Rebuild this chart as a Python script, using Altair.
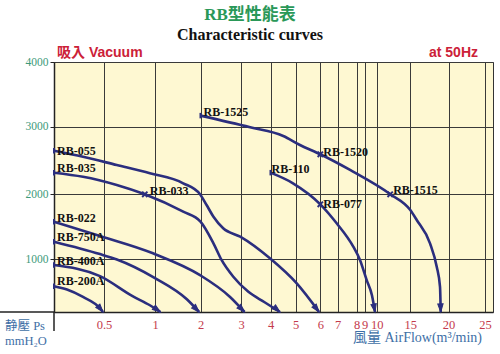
import altair as alt
import pandas as pd

# ---------------- data ----------------
RB200A_X = [0, 0.13, 0.29, 0.46, 0.49]
RB200A_Y = [490, 427, 286, 71, 0]
RB400A_X = [0, 0.46, 0.78, 0.95, 1.12]
RB400A_Y = [891, 680, 300, 128, 0]
RB750A_X = [0, 0.46, 0.62, 1.0, 1.7, 1.97]
RB750A_Y = [1271, 1080, 1000, 643, 242, 0]
RB022_X = [0, 0.46, 0.98, 1.99, 2.73, 3.12]
RB022_Y = [1578, 1358, 1092, 700, 286, 0]
RB035_X = [0, 0.29, 0.625, 0.9, 1.62, 2.0, 2.32, 2.52, 2.81, 3.25, 3.8, 4.38]
RB035_Y = [2320, 2260, 2138, 2000, 1732, 1580, 1246, 987, 668, 382, 185, 0]
RB055_X = [0, 0.29, 0.625, 0.95, 1.62, 1.99, 2.15, 2.32, 2.56, 2.98, 3.98, 5.05, 5.95]
RB055_Y = [2645, 2556, 2433, 2311, 2163, 2000, 1835, 1655, 1477, 1348, 1015, 542, 0]
RB110_X = [4, 4.9, 6, 6.94, 7.82, 8.42, 9.18, 9.61, 9.86]
RB110_Y = [2320, 2163, 1846, 1554, 1194, 987, 605, 319, 0]
RB1525_X = [2, 3.31, 4.51, 5.18, 6, 7.65, 11.98, 15, 15.84, 17.58, 18.46, 18.89, 18.98]
RB1525_Y = [3171, 2991, 2862, 2729, 2592, 2360, 2004, 1758, 1605, 1246, 859, 477, 0]

CURVE_NAMES = ["RB-200A", "RB-400A", "RB-750A", "RB-022", "RB-035", "RB-055", "RB-110", "RB-1525"]
CURVE_X = [RB200A_X, RB400A_X, RB750A_X, RB022_X, RB035_X, RB055_X, RB110_X, RB1525_X]
CURVE_Y = [RB200A_Y, RB400A_Y, RB750A_Y, RB022_Y, RB035_Y, RB055_Y, RB110_Y, RB1525_Y]

MID_NAMES = ["RB-033", "RB-077", "RB-1520", "RB-1515"]
MID_X = [0.9, 6, 6, 12]
MID_Y = [2000, 1846, 2592, 2000]

LABELS = ["RB-055", "RB-035", "RB-022", "RB-750A", "RB-400A", "RB-200A",
          "RB-033", "RB-1525", "RB-1520", "RB-110", "RB-077", "RB-1515"]
LABEL_X = [0, 0, 0, 0, 0, 0, 0.9, 2, 6, 4, 6, 12]
LABEL_Y = [2645, 2320, 1578, 1271, 891, 490, 2000, 3171, 2592, 2320, 1846, 2000]

X_TICKS = [0.5, 1, 2, 3, 4, 5, 6, 7, 8, 9, 10, 15, 20, 25]
Y_TICKS = [1000, 2000, 3000, 4000]

# ---------------- styles ----------------
LABEL_DX = [3, 3, 3, 3, 3, 3, 5, 3, 3, 1, 3, 3]
LABEL_DY = [4, -1, 0, -1, 0, -1, 1, 0, 2, 0, 4, 0]
ARROW_ANGLE = [140, 125, 136, 135, 130, 142, 170, 178]

# irregular hand-drawn axis -> piecewise scales
X_DOMAIN = [0, 0.5, 1, 2, 3, 4, 5, 6, 7, 8, 9, 10, 15, 20, 25, 27]
X_RANGE = [0, 50, 101, 146.5, 187, 216.5, 241.5, 266.3, 283.7, 302.7, 310.5, 322.7, 356.3, 394.5, 431, 439]
Y_DOMAIN = [0, 1000, 2000, 3000, 4000]
Y_RANGE = [250, 197.3, 132.3, 64.7, 0]

NAVY = "#2B2E7E"
RED = "#CC2138"
XRED = "#C43A4C"
GREEN = "#2A9858"
TEAL = "#3D9A7A"
BLUE = "#3E6FA6"
W, H = 439, 250

rows = []
for name, xs, ys in zip(CURVE_NAMES, CURVE_X, CURVE_Y):
    for i, (xv, yv) in enumerate(zip(xs, ys)):
        rows.append({"curve": name, "x": xv, "y": yv, "order": i})
df = pd.DataFrame(rows)

starts = pd.DataFrame({"curve": CURVE_NAMES, "x": [xs[0] for xs in CURVE_X], "y": [ys[0] for ys in CURVE_Y]})
ends = pd.DataFrame({"curve": CURVE_NAMES, "x": [xs[-1] for xs in CURVE_X],
                     "y": [ys[-1] for ys in CURVE_Y], "angle": ARROW_ANGLE})
mids = pd.DataFrame({"name": MID_NAMES, "x": MID_X, "y": MID_Y})

xscale = alt.Scale(type="linear", domain=X_DOMAIN, range=X_RANGE, zero=False, nice=False)
yscale = alt.Scale(type="linear", domain=Y_DOMAIN, range=Y_RANGE, zero=False, nice=False)

x_axis = alt.Axis(values=X_TICKS, format="~g", title=None, grid=True, gridColor="#3a3a3a",
                  gridWidth=1, gridOpacity=1, domainColor="#222", domainWidth=1.5, ticks=False,
                  labelColor=XRED, labelFont="Liberation Serif", labelFontSize=12.5, labelPadding=6,
                  labelFlush=False, labelOverlap=False)
y_axis = alt.Axis(values=Y_TICKS, format="d", title=None, grid=True, gridColor="#3a3a3a",
                  gridWidth=1, gridOpacity=1, domainColor="#222", domainWidth=1.5, ticks=True,
                  tickSize=4, tickColor="#222", labelColor=TEAL, labelFont="Liberation Serif",
                  labelFontSize=11.5, labelPadding=2, labelFlush=False, labelOverlap=False)

X = alt.X("x:Q", scale=xscale, axis=x_axis)
Y = alt.Y("y:Q", scale=yscale, axis=y_axis)

lines = alt.Chart(df).mark_line(color=NAVY, strokeWidth=2.6, interpolate="monotone").encode(
    x=X, y=Y, detail="curve:N", order="order:Q")

arrows = alt.Chart(ends).mark_point(shape="M0,0L-0.6,1.8L0.6,1.8Z", filled=True, fill=NAVY,
                                    stroke=NAVY, strokeWidth=1, opacity=1, size=80).encode(
    x=X, y=Y, angle=alt.Angle("angle:Q", scale=None))

start_marks = alt.Chart(starts).mark_point(shape="M0,-1L0,1", filled=False, color=NAVY,
                                           strokeWidth=2, opacity=1, size=30).encode(x=X, y=Y)

mid_marks = alt.Chart(mids).mark_point(shape="M-1,-1L1,1M-1,1L1,-1", filled=False, color=NAVY,
                                       strokeWidth=2, opacity=1, size=28).encode(x=X, y=Y)

label_layers = []
for t, xv, yv, dx, dy in zip(LABELS, LABEL_X, LABEL_Y, LABEL_DX, LABEL_DY):
    label_layers.append(
        alt.Chart(pd.DataFrame({"t": [t], "x": [xv], "y": [yv]})).mark_text(
            font="Liberation Serif", fontWeight="bold", fontSize=12, align="left",
            baseline="alphabetic", color="#111", dx=dx, dy=dy).encode(x=X, y=Y, text="t:N"))

def txt(s, x, y, **kw):
    return alt.Chart(pd.DataFrame({"t": [s]})).mark_text(**kw).encode(
        x=alt.value(x), y=alt.value(y), text="t:N")

titles = [
    txt("RB型性能表", 196, -42, font="Liberation Serif, Noto Sans CJK TC", fontWeight="bold",
        fontSize=17, color=GREEN, align="center", baseline="alphabetic"),
    txt("Characteristic curves", 196, -22, font="Liberation Serif", fontWeight="bold",
        fontSize=16, color="#111", align="center", baseline="alphabetic"),
    txt("吸入 Vacuum", 3, -5, font="Liberation Sans, Noto Sans CJK TC", fontWeight="bold",
        fontSize=14, color=RED, align="left", baseline="alphabetic"),
    txt("at 50Hz", 424, -5, font="Liberation Sans", fontWeight="bold",
        fontSize=14, color=RED, align="right", baseline="alphabetic"),
    txt("静壓 Ps", -49, 268, font="Liberation Serif, Noto Sans CJK TC", fontSize=12.5,
        color=BLUE, align="left", baseline="alphabetic"),
    txt("mmH₂O", -49, 283, font="Liberation Serif", fontSize=12.5,
        color=BLUE, align="left", baseline="alphabetic"),
    txt("風量 AirFlow(m³/min)", 299, 280, font="Liberation Serif, Noto Sans CJK TC", fontSize=14,
        color=BLUE, align="left", baseline="alphabetic"),
]

extra_axis = [
    alt.Chart(pd.DataFrame({"a": [0]})).mark_rule(color="#222", strokeWidth=1.5).encode(
        x=alt.value(-54), x2=alt.value(0), y=alt.value(H)),
    alt.Chart(pd.DataFrame({"a": [0]})).mark_rule(color="#222", strokeWidth=1.5).encode(
        x=alt.value(0), y=alt.value(H), y2=alt.value(H + 19)),
]

chart = alt.layer(lines, arrows, start_marks, mid_marks, *label_layers, *titles, *extra_axis).properties(
    width=W, height=H,
    autosize=alt.AutoSizeParams(type="none"),
    padding={"left": 54, "top": 62, "right": 7, "bottom": 42},
    background="white",
).configure_view(fill="#FEF8D2", stroke="#333", strokeWidth=1)

chart.save("out.html", embed_options={"renderer": "svg", "actions": False})
